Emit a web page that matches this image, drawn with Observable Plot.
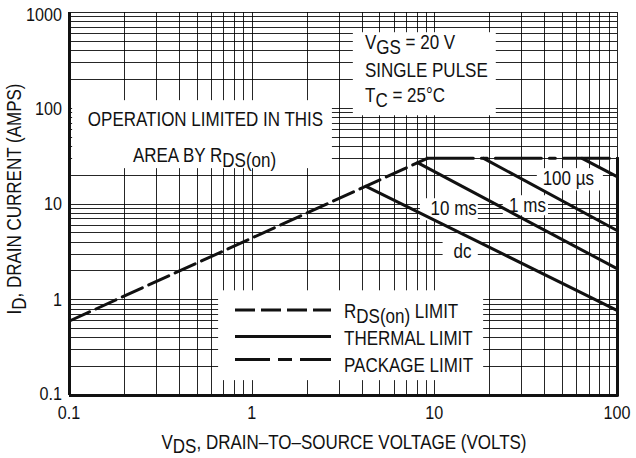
<!DOCTYPE html>
<html>
<head>
<meta charset="utf-8">
<script src="https://cdn.jsdelivr.net/npm/d3@7"></script>
<script src="https://cdn.jsdelivr.net/npm/@observablehq/plot@0.6"></script>
<style>
  html, body { margin: 0; padding: 0; background: #fff; }
  #chart svg { display: block; }
</style>
</head>
<body>
<div id="chart"></div>
<script>
// ---------- data ----------
const xTicks = [0.1, 1, 10, 100];
const yTicks = [0.1, 1, 10, 100, 1000];
const xTickLabels = ["0.1", "1", "10", "100"];
const yTickLabels = ["0.1", "1", "10", "100", "1000"];
const xDecades = [0.1, 1, 10];
const yDecades = [0.1, 1, 10, 100];
const gridSteps = [1, 2, 3, 4, 5, 6, 7, 8, 9];

// R_DS(on) limit (dashed)
const rdsV = [0.1, 9.1];
const rdsI = [0.6, 30];
// package limit (dash-dot)
const pkgV = [9.1, 100];
const pkgI = [30, 30];
// thermal limits (solid)
const dcV = [4.2, 100];
const dcI = [15.3, 0.77];
const ms10V = [8.04, 100];
const ms10I = [27, 2.1];
const ms1V = [18.5, 100];
const ms1I = [30, 5.25];
const us100V = [64, 100];
const us100I = [30, 19.2];
// V_DS max boundary (solid)
const vmaxV = [100, 100];
const vmaxI = [30, 0.1];

const curveNames = ["dc", "10 ms", "1 ms", "100 µs"];

// ---------- build ----------
const xGrid = xDecades.flatMap(d => gridSteps.map(k => k * d)).concat([100]);
const yGrid = yDecades.flatMap(d => gridSteps.map(k => k * d)).concat([1000]);
const toRows = (vs, is, name) => vs.map((v, k) => ({v, i: is[k], name}));

const rdsRows = toRows(rdsV, rdsI, "rds");
const pkgRows = toRows(pkgV, pkgI, "pkg");
const thermalRows = [
  ...toRows(dcV, dcI, curveNames[0]),
  ...toRows(ms10V, ms10I, curveNames[1]),
  ...toRows(ms1V, ms1I, curveNames[2]),
  ...toRows(us100V, us100I, curveNames[3]),
  ...toRows(vmaxV, vmaxI, "vmax")
];

// white clearings behind the annotations (data units)
const masks = [
  {x1: 0.104, x2: 2.75, y1: 23.4, y2: 120},
  {x1: 3.58, x2: 21.7, y1: 83.5, y2: 615},
  {x1: 0.655, x2: 18.5, y1: 0.143, y2: 1.24},
  {x1: 8.34, x2: 17.3, y1: 6.68, y2: 11.35},
  {x1: 23.7, x2: 41.9, y1: 7.54, y2: 12.2},
  {x1: 36.4, x2: 83.7, y1: 13.7, y2: 23.4},
  {x1: 11.1, x2: 17.3, y1: 2.43, y2: 4.13}
];

const INK = "#111";
const GRID = "#000";

const chart = Plot.plot({
  width: 636,
  height: 458,
  marginTop: 12,
  marginRight: 19,
  marginBottom: 63,
  marginLeft: 69,
  x: {type: "log", domain: [0.1, 100], axis: null},
  y: {type: "log", domain: [0.1, 1000], axis: null},
  marks: [
    Plot.ruleX(xGrid, {stroke: GRID, strokeWidth: 1, strokeOpacity: 0.85, shapeRendering: "crispEdges"}),
    Plot.ruleY(yGrid, {stroke: GRID, strokeWidth: 1, strokeOpacity: 0.85, shapeRendering: "crispEdges"}),
    Plot.rect(masks, {x1: "x1", x2: "x2", y1: "y1", y2: "y2", fill: "white"}),
    Plot.ruleX([0.1], {stroke: INK, strokeWidth: 3}),
    Plot.ruleY([0.1], {stroke: INK, strokeWidth: 3}),
    Plot.line(rdsRows, {x: "v", y: "i", stroke: INK, strokeWidth: 3, strokeDasharray: "22,7"}),
    Plot.line(pkgRows, {x: "v", y: "i", stroke: INK, strokeWidth: 3, strokeDasharray: "46,8,6,8"}),
    Plot.line(thermalRows, {x: "v", y: "i", z: "name", stroke: INK, strokeWidth: 3})
  ]
});
document.getElementById("chart").appendChild(chart);

// ---------- text (condensed Helvetica look) ----------
const svg = d3.select(chart);
const sx = chart.scale("x"), sy = chart.scale("y");
const FONT = "'Liberation Sans', Arial, Helvetica, sans-serif";
const SQUEEZE = 0.85;

function label(x, y, parts, {size = 20, anchor = "start", rotate = 0} = {}) {
  const g = svg.append("g")
    .attr("transform", `translate(${x},${y}) rotate(${rotate}) scale(${SQUEEZE},1)`);
  const t = g.append("text")
    .attr("font-family", FONT)
    .attr("font-size", size)
    .attr("text-anchor", anchor)
    .attr("fill", INK);
  let shift = 0;
  for (const p of parts) {
    const [s, sh] = typeof p === "string" ? [p, 0] : p;
    const ts = t.append("tspan").text(s);
    if (sh !== shift) ts.attr("dy", sh - shift);
    shift = sh;
  }
  return t;
}

// tick labels
xTicks.forEach((v, k) => label(sx.apply(v), 419, [xTickLabels[k]], {size: 19, anchor: "middle"}));
yTicks.forEach((v, k) => {
  const yc = Math.min(Math.max(sy.apply(v), 14), 393.5);
  label(62, yc + 6.8, [yTickLabels[k]], {size: 19, anchor: "end"});
});

// axis titles
label(344, 449, ["V", ["DS", 4], ", DRAIN\u2013TO\u2013SOURCE VOLTAGE (VOLTS)"], {anchor: "middle"});
label(21, 199, ["I", ["D", 5], ", DRAIN CURRENT (AMPS)"], {anchor: "middle", rotate: -90});

// notes
label(205.5, 126, ["OPERATION LIMITED IN THIS"], {anchor: "middle"});
label(204.5, 162, ["AREA BY R", ["DS(on)", 5]], {anchor: "middle"});
label(365, 49, ["V", ["GS", 5], " = 20 V"]);
label(365, 77, ["SINGLE PULSE"]);
label(365, 102, ["T", ["C", 5], " = 25\u00B0C"]);

// curve labels
label(453.7, 215, [curveNames[1]], {anchor: "middle"});
label(527.5, 211.7, [curveNames[2]], {anchor: "middle"});
label(568.3, 185, [curveNames[3]], {anchor: "middle"});
label(462.5, 258, [curveNames[0]], {anchor: "middle"});

// legend
const legendRows = [
  {y: 310, dash: "20,6", parts: ["R", ["DS(on)", 5], [" LIMIT", 0]]},
  {y: 336.5, dash: null, parts: ["THERMAL LIMIT"]},
  {y: 359.5, dash: "35,8,14,8", parts: ["PACKAGE LIMIT"]}
];
legendRows.forEach((r, k) => {
  const ln = svg.append("line")
    .attr("x1", 235).attr("x2", 331)
    .attr("y1", r.y).attr("y2", r.y)
    .attr("stroke", INK).attr("stroke-width", 3);
  if (r.dash) ln.attr("stroke-dasharray", r.dash);
  label(344, [318, 345, 372][k], r.parts);
});
</script>
</body>
</html>
